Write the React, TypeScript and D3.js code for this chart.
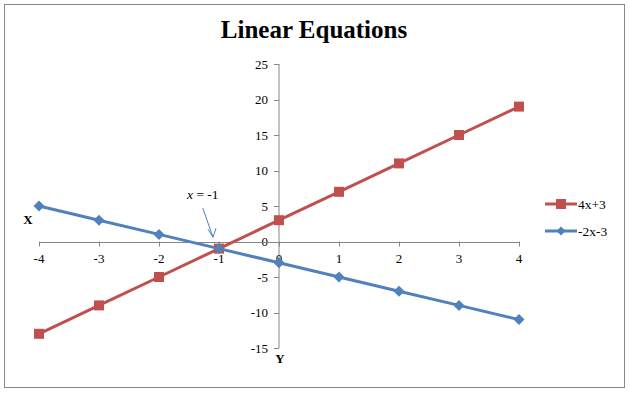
import React from 'react';
import * as d3 from 'd3';

const xValues = [-4, -3, -2, -1, 0, 1, 2, 3, 4];
const redValues = [-13, -9, -5, -1, 3, 7, 11, 15, 19];
const blueValues = [5, 3, 1, -1, -3, -5, -7, -9, -11];
const xTicks = [-4, -3, -2, -1, 0, 1, 2, 3, 4];
const yTicks = [-15, -10, -5, 0, 5, 10, 15, 20, 25];
const seriesNames = ['4x+3', '-2x-3'];

const RED = '#c0504d';
const BLUE = '#4f81bd';
const FONT = '"Liberation Serif", "Times New Roman", serif';

const App: React.FC = () => {
  const width = 630;
  const height = 393;

  const x = d3.scaleLinear().domain([-4, 4]).range([39, 519]);
  const y = d3.scaleLinear().domain([-15, 25]).range([348, 64]);

  const line = d3.line<number>()
    .x((_, i) => x(xValues[i]))
    .y(d => y(d));

  const diamond = (cx: number, cy: number, r: number) =>
    `M${cx},${cy - r}L${cx + r},${cy}L${cx},${cy + r}L${cx - r},${cy}Z`;

  // arrow for annotation
  const ax1 = x(-1.27), ay1 = y(4.7);
  const ax2 = x(-1.1), ay2 = y(0.6);

  return (
    <div style={{ position: 'absolute', left: 0, top: 0 }}>
      <svg width={width} height={height} style={{ display: 'block' }}>
        <rect x={0} y={0} width={width} height={height} fill="#fff" />
        <rect x={4.5} y={4.5} width={620} height={383} fill="#fff" stroke="#888" strokeWidth={1} />

        <text x={314} y={38} textAnchor="middle" fontFamily={FONT} fontWeight="bold" fontSize={25} fill="#000">
          Linear Equations
        </text>

        {/* y axis */}
        <line x1={x(0)} x2={x(0)} y1={y(-15)} y2={y(25)} stroke="#868686" strokeWidth={1} />
        {yTicks.map(t => (
          <g key={'y' + t}>
            <line x1={x(0) - 5} x2={x(0)} y1={Math.round(y(t)) + 0.5} y2={Math.round(y(t)) + 0.5} stroke="#868686" />
            <text x={x(0) - 11} y={y(t) + 4.5} textAnchor="end" fontFamily={FONT} fontSize={13} fill="#000">
              {t}
            </text>
          </g>
        ))}

        {/* x axis */}
        <line x1={x(-4)} x2={x(4)} y1={Math.round(y(0)) + 0.5} y2={Math.round(y(0)) + 0.5} stroke="#868686" strokeWidth={1} />
        {xTicks.map(t => (
          <g key={'x' + t}>
            <line x1={x(t) + 0.5} x2={x(t) + 0.5} y1={y(0)} y2={y(0) + 5} stroke="#868686" />
            <text x={x(t)} y={y(0) + 21} textAnchor="middle" fontFamily={FONT} fontSize={13} fill="#000">
              {t}
            </text>
          </g>
        ))}

        <text x={28} y={224} textAnchor="middle" fontFamily={FONT} fontWeight="bold" fontSize={13} fill="#000">X</text>
        <text x={280} y={363} textAnchor="middle" fontFamily={FONT} fontWeight="bold" fontSize={13} fill="#000">Y</text>

        {/* annotation */}
        <text x={187} y={199} fontFamily={FONT} fontSize={13.5} fill="#000">
          <tspan fontStyle="italic">x</tspan> = -1
        </text>
        <line x1={ax1} y1={ay1} x2={ax2} y2={ay2} stroke={BLUE} strokeWidth={1} />
        <path
          d={`M${ax2 - 5},${ay2 - 8}L${ax2},${ay2}L${ax2 + 3},${ay2 - 9}`}
          fill="none"
          stroke={BLUE}
          strokeWidth={1}
        />

        {/* series */}
        <path d={line(redValues) || ''} fill="none" stroke={RED} strokeWidth={3} />
        <path d={line(blueValues) || ''} fill="none" stroke={BLUE} strokeWidth={3} />
        {redValues.map((v, i) => (
          <rect key={'r' + i} x={x(xValues[i]) - 5} y={y(v) - 5} width={10} height={10} fill={RED} />
        ))}
        {blueValues.map((v, i) => (
          <path key={'b' + i} d={diamond(x(xValues[i]), y(v), 5.5)} fill={BLUE} />
        ))}

        {/* legend */}
        <line x1={545} x2={577} y1={204} y2={204} stroke={RED} strokeWidth={3} />
        <rect x={556} y={199} width={10} height={10} fill={RED} />
        <text x={578} y={208.5} fontFamily={FONT} fontSize={13.5} fill="#000">{seriesNames[0]}</text>
        <line x1={545} x2={577} y1={231} y2={231} stroke={BLUE} strokeWidth={3} />
        <path d={diamond(561, 231, 4.5)} fill={BLUE} />
        <text x={578} y={235.5} fontFamily={FONT} fontSize={13.5} fill="#000">{seriesNames[1]}</text>
      </svg>
    </div>
  );
};

export default App;
